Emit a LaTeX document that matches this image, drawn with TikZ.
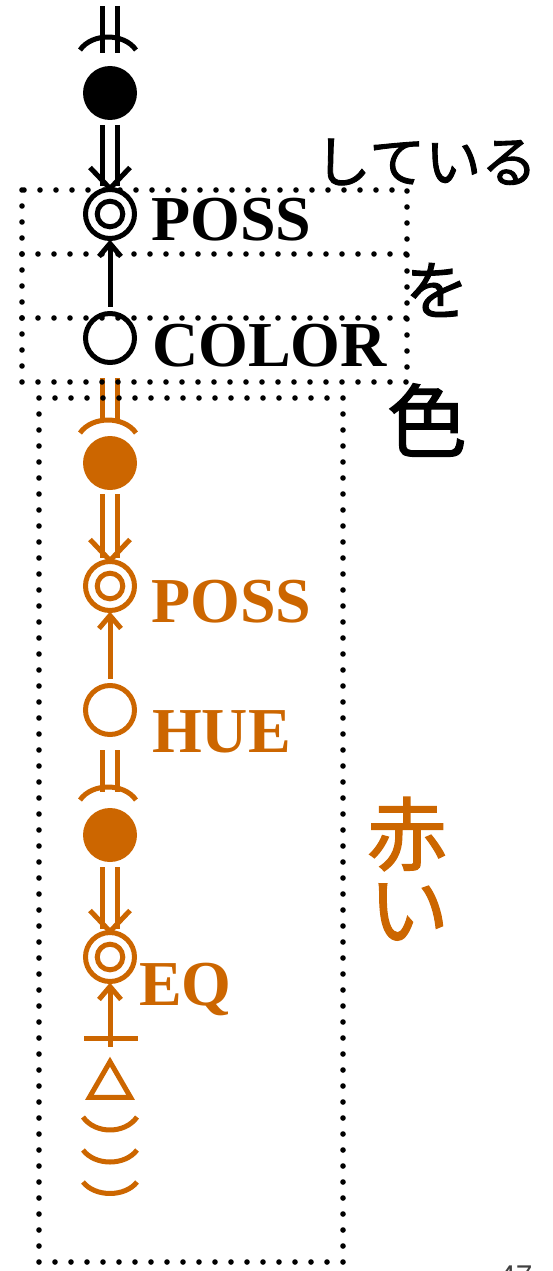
\documentclass[tikz,border=0pt]{standalone}
\usepackage{fontspec}
\setmainfont{Liberation Serif}
\newfontfamily\jpfont{Noto Sans CJK JP}[BoldFont={Noto Sans CJK JP}, BoldFeatures={FakeBold=1.6}]
\newfontfamily\pnfont{Liberation Sans}
\usetikzlibrary{calc,shapes.geometric}
\definecolor{org}{HTML}{CC6600}
\begin{document}
\begin{tikzpicture}[x=1pt,y=-1pt,
  ln/.style={line width=5pt},
  dbl/.style={line width=5pt, double distance=9.6pt, double=white},
  chev/.style={line width=5pt, line join=miter},
  ring/.style={circle, draw, line width=5pt, minimum size=49pt, inner sep=0pt, outer sep=0pt},
  fdot/.style={circle, fill, minimum size=54pt, inner sep=0pt, outer sep=0pt},
  dring/.style={ring, path picture={\draw[line width=5pt] (path picture bounding box.center) circle[radius=12.8pt];}},
  dts/.style={line width=5.6pt, dash pattern=on 0pt off 16pt, line cap=round},
  lab/.style={font=\bfseries\fontsize{64}{64}\selectfont, inner sep=0pt, anchor=base west},
  jps/.style={font=\jpfont\bfseries\fontsize{56}{56}\selectfont, inner sep=0pt},
  jpm/.style={font=\jpfont\bfseries\fontsize{64}{64}\selectfont, inner sep=0pt},
  jpl/.style={font=\jpfont\bfseries\fontsize{80}{80}\selectfont, inner sep=0pt},
]
\useasboundingbox (0,0) rectangle (552,1271);

% ---------- black part ----------
\coordinate (top) at (110,6);
\coordinate (topend) at (110,53);
\draw[dbl] (top) -- (topend);
\draw[ln] (80,50) .. controls (92,32.7) and (124,32.7) .. (136,50);

\node[fdot] (fb1) at (110,93) {};
\node[dring] (pos1) at (110,214) {};
\node[ring] (col1) at (110,338) {};

\draw[dbl] ($(fb1.south)+(0,5)$) -- ($(pos1.north)+(0,-4)$);
\draw[chev] ($(pos1.north)+(-20,-22)$) -- ($(pos1.north)+(0,-1)$) -- ($(pos1.north)+(20,-22)$);

\draw[ln] ($(col1.north)+(0,-7)$) -- ($(pos1.south)+(0,5)$);
\draw[chev] ($(pos1.south)+(-11,18)$) -- ($(pos1.south)+(0,5)$) -- ($(pos1.south)+(11,18)$);

\node[lab] (lposs1) at (151,240) {POSS};
\node[lab] (lcol) at (152,366) {COLOR};

% ---------- orange part ----------
\begin{scope}[color=org]
\coordinate (s2a) at (110,378);
\coordinate (s2b) at (110,422);
\draw[dbl] (s2a) -- (s2b);
\draw[ln] (80,433) .. controls (92,415.7) and (124,415.7) .. (136,433);

\node[fdot, fill=org] (fb2) at (110,463) {};
\node[dring, draw=org] (pos2) at (110,586) {};
\node[ring, draw=org] (hue) at (110,710) {};

\draw[dbl] ($(fb2.south)+(0,4)$) -- ($(pos2.north)+(0,-4)$);
\draw[chev] ($(pos2.north)+(-20,-22)$) -- ($(pos2.north)+(0,-1)$) -- ($(pos2.north)+(20,-22)$);

\draw[ln] ($(hue.north)+(0,-7)$) -- ($(pos2.south)+(0,5)$);
\draw[chev] ($(pos2.south)+(-11,18)$) -- ($(pos2.south)+(0,5)$) -- ($(pos2.south)+(11,18)$);

\coordinate (s3a) at (110,750);
\coordinate (s3b) at (110,792);
\draw[dbl] (s3a) -- (s3b);
\draw[ln] (80,800) .. controls (92,782.7) and (124,782.7) .. (136,800);

\node[fdot, fill=org] (fb3) at (110,835) {};
\node[dring, draw=org] (eq) at (110,957) {};

\draw[dbl] ($(fb3.south)+(0,5)$) -- ($(eq.north)+(0,-4)$);
\draw[chev] ($(eq.north)+(-20,-22)$) -- ($(eq.north)+(0,-1)$) -- ($(eq.north)+(20,-22)$);

\node[regular polygon, regular polygon sides=3, draw=org, line width=5pt,
      minimum size=47.6pt, inner sep=0pt, outer sep=0pt] (tri) at (110,1085.5) {};
\draw[ln] ($(tri.north)+(0,-15)$) -- ($(eq.south)+(0,5)$);
\draw[chev] ($(eq.south)+(-11,18)$) -- ($(eq.south)+(0,5)$) -- ($(eq.south)+(11,18)$);
\draw[ln] (84,1038) -- (138,1038);

\draw[ln] (83,1117) .. controls (95,1134.3) and (125,1134.3) .. (137,1117);
\draw[ln] (83,1150) .. controls (95,1166) and (125,1166) .. (137,1150);
\draw[ln] (83,1182) .. controls (95,1197.3) and (125,1197.3) .. (137,1182);

\node[lab, text=org] (lposs2) at (151,622) {POSS};
\node[lab, text=org] (lhue) at (152,752) {HUE};
\node[lab, text=org] (leq) at (139,1005) {EQ};

\node[jpl, text=org] (aka) at (407,834) {赤};
\node[jpl, text=org] (ai) at (409,912) {い};
\end{scope}

% ---------- dotted boxes ----------
\draw[dts] (22,190) rectangle (407,382);
\draw[dts] (22,254) -- (407,254);
\draw[dts] (22,318) -- (407,318);
\draw[dts] (39,398) rectangle (343,1262);

% ---------- Japanese ----------
\node[jps] (shiteiru) at (426,162) {している};
\node[jpm] (wo) at (437,290) {を};
\node[jpl] (iro) at (427,420) {色};

\node[font=\pnfont\fontsize{30}{30}\selectfont, text=black!75, anchor=north west, inner sep=0pt] (pg) at (499,1266) {47};
\end{tikzpicture}
\end{document}
